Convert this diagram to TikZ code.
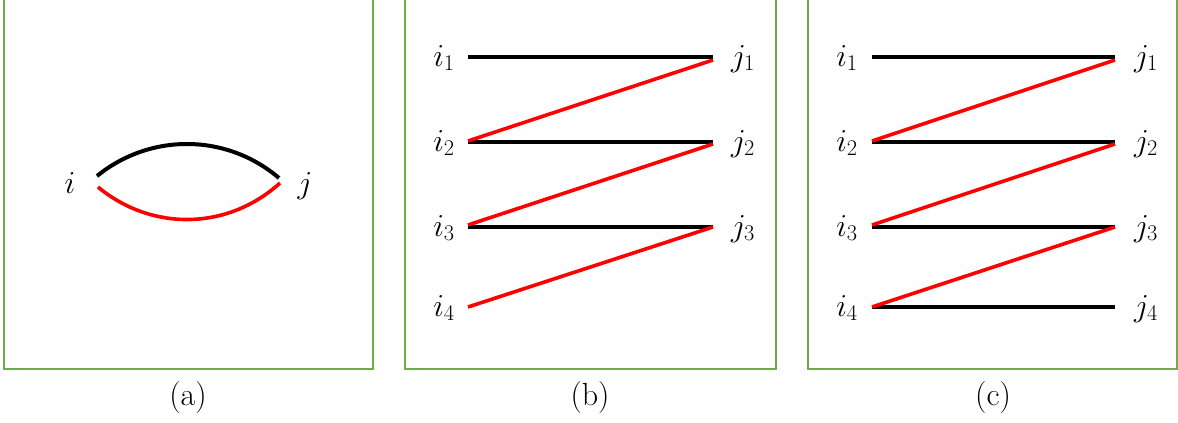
\RequirePackage{fix-cm}
\documentclass[tikz,border=0pt]{standalone}
\definecolor{boxgreen}{RGB}{112,173,71}
\definecolor{edgered}{RGB}{255,0,0}
\begin{document}
\begin{tikzpicture}[x=1pt,y=-1pt,
  panel/.style={draw=boxgreen,line width=1.6pt},
  blk/.style={line width=4pt,black},
  rd/.style={line width=3.6pt,edgered},
  lbl/.style={inner sep=0pt,anchor=base,font=\fontsize{32}{34}\selectfont},
  captext/.style={inner sep=0pt,anchor=base,font=\fontsize{32}{36}\selectfont}]
\useasboundingbox (0,0) rectangle (1178,423);
\begin{scope}
\clip (0,0) rectangle (1178,423);
\draw[panel] (4,-10) rectangle (373,369);
\draw[panel] (405,-10) rectangle (776,369);
\draw[panel] (808,-10) rectangle (1177,369);
\end{scope}

% (a)
\node[lbl] (ai) at (70,193) {$i$};
\node[lbl] (aj) at (305,193) {$j$};
\coordinate (a1) at (97,176);
\coordinate (a2) at (279,178);
\coordinate (a3) at (98,187);
\coordinate (a4) at (280,183);
\draw[blk] (a1) .. controls (150,133) and (226,133) .. (a2);
\draw[rd] (a3) .. controls (151,231) and (227,231) .. (a4);
\node[captext] (capa) at (188,405) {(a)};

% (b)
\foreach \k/\y in {1/57,2/142,3/227,4/307}{
  \coordinate (bL\k) at (468,\y);
  \coordinate (bR\k) at (713,\y);
  \node[lbl] (bi\k) at (444,\y+9) {$i_{\k}$};
}
\foreach \k/\y in {1/57,2/142,3/227}{
  \node[lbl] (bj\k) at (743,\y+9) {$j_{\k}$};
  \draw[blk] (bL\k) -- (bR\k);
}
\draw[rd] ([yshift=-3pt]bR1) -- ([yshift=1pt]bL2);
\draw[rd] ([yshift=-2pt]bR2) -- ([yshift=2pt]bL3);
\draw[rd] ([yshift=0pt]bR3) -- ([yshift=0pt]bL4);
\node[captext] (capb) at (590,405) {(b)};

% (c)
\foreach \k/\y in {1/57,2/142,3/227,4/307}{
  \coordinate (cL\k) at (872,\y);
  \coordinate (cR\k) at (1115,\y);
  \node[lbl] (ci\k) at (847,\y+9) {$i_{\k}$};
  \node[lbl] (cj\k) at (1146,\y+9) {$j_{\k}$};
  \draw[blk] (cL\k) -- (cR\k);
}
\draw[rd] ([yshift=-3pt]cR1) -- ([yshift=1pt]cL2);
\draw[rd] ([yshift=-2pt]cR2) -- ([yshift=2pt]cL3);
\draw[rd] ([yshift=0pt]cR3) -- ([yshift=0pt]cL4);
\node[captext] (capc) at (993,405) {(c)};
\end{tikzpicture}
\end{document}
